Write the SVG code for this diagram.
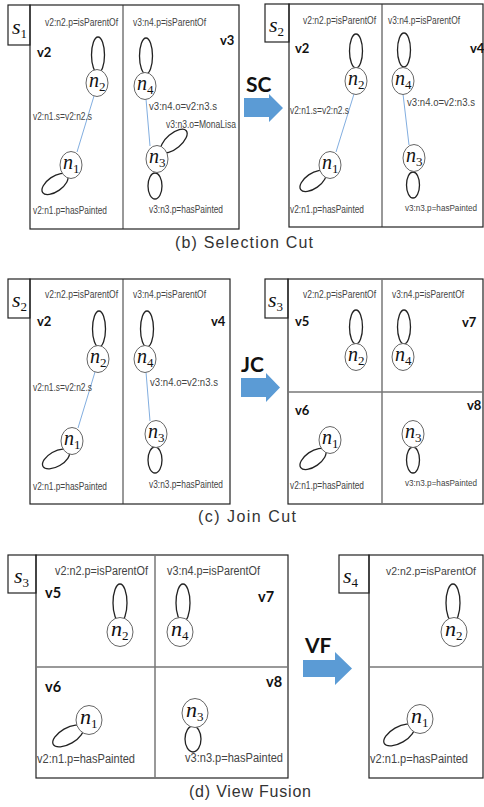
<svg xmlns="http://www.w3.org/2000/svg" width="484" height="807" viewBox="0 0 484 807">
<style>
.bg{fill:#fff}
.box{fill:none;stroke:#222;stroke-width:1.2}
.dv{stroke:#333;stroke-width:1}
.dg{stroke:#777;stroke-width:1.5}
.node{fill:#fff;stroke:#666;stroke-width:1}
.loop{fill:none;stroke:#222;stroke-width:1.3}
.edge{stroke:#82aee0;stroke-width:1}
.lbl{font-family:"Liberation Sans",Arial,sans-serif;font-size:10.5px;fill:#444}
.lb2{font-family:"Liberation Sans",Arial,sans-serif;font-size:12.5px;fill:#444}
.tight{font-size:8.5px}
.tight2{font-size:11px}
.v{font-family:Lato,"Liberation Sans",sans-serif;font-weight:bold;font-size:13px;fill:#111}
.v2{font-family:Lato,"Liberation Sans",sans-serif;font-weight:bold;font-size:14.5px;fill:#111}
.op{font-family:Lato,"Liberation Sans",sans-serif;font-weight:bold;font-size:21px;fill:#111}
.arrow{fill:#5b9bd5}
.cap{font-family:"Liberation Sans",Arial,sans-serif;font-size:16px;fill:#333}
.s{font-family:"Liberation Serif",serif;font-style:italic;font-size:22px;fill:#111}
.n{font-family:"Liberation Serif",serif;font-style:italic;font-size:20px;fill:#111}
.nd{font-family:"Liberation Serif",serif;font-style:italic;font-size:22px;fill:#111}
.sub{font-size:13px;font-style:normal}
</style>
<rect class="bg" x="0" y="0" width="484" height="807"/>

<g id="frames">
  <rect class="box" x="30" y="5" width="209" height="224"/>
  <line class="dv" x1="123" y1="5" x2="123" y2="229"/>
  <rect class="box" x="8" y="5" width="22" height="40"/>
  <rect class="box" x="289" y="4" width="194" height="223"/>
  <line class="dv" x1="382" y1="4" x2="382" y2="227"/>
  <rect class="box" x="265" y="4" width="24" height="38"/>
  <rect class="box" x="30" y="279" width="200" height="225"/>
  <line class="dv" x1="123" y1="279" x2="123" y2="504"/>
  <rect class="box" x="8" y="279" width="22" height="39"/>
  <rect class="box" x="288" y="279" width="195" height="225"/>
  <line class="dg" x1="382" y1="279" x2="382" y2="504"/>
  <line class="dg" x1="288" y1="392" x2="483" y2="392"/>
  <rect class="box" x="265" y="279" width="23" height="39"/>
  <rect class="box" x="36" y="555" width="252" height="223"/>
  <line class="dg" x1="155" y1="555" x2="155" y2="778"/>
  <line class="dg" x1="36" y1="667" x2="288" y2="667"/>
  <rect class="box" x="8" y="555" width="28" height="38"/>
  <rect class="box" x="369" y="555" width="114" height="223"/>
  <line class="dg" x1="369" y1="667" x2="483" y2="667"/>
  <rect class="box" x="339" y="555" width="30" height="38"/>
</g>

<g id="connectors">
  <ellipse class="loop" cx="98" cy="55" rx="6.5" ry="18"/>
  <line class="edge" x1="94" y1="96" x2="77" y2="152"/>
  <ellipse class="loop" cx="55" cy="184" rx="15" ry="7.5" transform="rotate(-35 55 184)"/>
  <ellipse class="loop" cx="146" cy="56" rx="6.5" ry="18"/>
  <line class="edge" x1="146" y1="99" x2="150" y2="146"/>
  <ellipse class="loop" cx="174" cy="141" rx="16" ry="7.5" transform="rotate(-40 174 141)"/>
  <ellipse class="loop" cx="155" cy="186" rx="7" ry="13"/>
  <ellipse class="loop" cx="356" cy="51" rx="6.5" ry="17"/>
  <line class="edge" x1="354" y1="94" x2="336" y2="152"/>
  <ellipse class="loop" cx="313" cy="181" rx="15" ry="7.5" transform="rotate(-35 313 181)"/>
  <ellipse class="loop" cx="404" cy="50" rx="6.5" ry="17"/>
  <line class="edge" x1="403" y1="94" x2="409" y2="145"/>
  <ellipse class="loop" cx="413" cy="185" rx="6.5" ry="13"/>
  <ellipse class="loop" cx="99" cy="329" rx="6.5" ry="18"/>
  <line class="edge" x1="95" y1="372" x2="78" y2="428"/>
  <ellipse class="loop" cx="56" cy="459" rx="15" ry="7.5" transform="rotate(-30 56 459)"/>
  <ellipse class="loop" cx="147" cy="329" rx="6.5" ry="18"/>
  <line class="edge" x1="146" y1="372" x2="150" y2="421"/>
  <ellipse class="loop" cx="155" cy="460" rx="7" ry="13"/>
  <ellipse class="loop" cx="356" cy="327" rx="6.5" ry="17"/>
  <ellipse class="loop" cx="404" cy="327" rx="6.5" ry="17"/>
  <ellipse class="loop" cx="313" cy="459" rx="15" ry="7.5" transform="rotate(-35 313 459)"/>
  <ellipse class="loop" cx="413" cy="460" rx="6.5" ry="13"/>
  <ellipse class="loop" cx="120" cy="603" rx="7" ry="19"/>
  <ellipse class="loop" cx="183" cy="603" rx="7" ry="19"/>
  <ellipse class="loop" cx="68" cy="736" rx="17" ry="8" transform="rotate(-30 68 736)"/>
  <ellipse class="loop" cx="193" cy="739" rx="8" ry="13"/>
  <ellipse class="loop" cx="453" cy="603" rx="7" ry="19"/>
  <ellipse class="loop" cx="399" cy="735" rx="17" ry="8" transform="rotate(-30 399 735)"/>
</g>

<!-- (b) Selection Cut -->
<g id="b-s1"><text class="s" x="12" y="34">s<tspan class="sub" dy="4">1</tspan></text></g>
<g id="b-v2"><text class="v" x="37" y="57">v2</text></g>
<g id="b-v3"><text class="v" x="220" y="45">v3</text></g>
<text class="lbl" x="45" y="26" textLength="73" lengthAdjust="spacingAndGlyphs">v2:n2.p=isParentOf</text>
<text class="lbl" x="33" y="120" textLength="59" lengthAdjust="spacingAndGlyphs">v2:n1.s=v2:n2.s</text>
<text class="lbl" x="33" y="214" textLength="74" lengthAdjust="spacingAndGlyphs">v2:n1.p=hasPainted</text>
<text class="lbl" x="133" y="26" textLength="73" lengthAdjust="spacingAndGlyphs">v3:n4.p=isParentOf</text>
<text class="lbl" x="149" y="110" textLength="68" lengthAdjust="spacingAndGlyphs">v3:n4.o=v2:n3.s</text>
<text class="lbl" x="166" y="128" textLength="70" lengthAdjust="spacingAndGlyphs">v3:n3.o=MonaLisa</text>
<text class="lbl" x="149" y="213" textLength="74" lengthAdjust="spacingAndGlyphs">v3:n3.p=hasPainted</text>
<g id="b-n2"><ellipse class="node" cx="97" cy="83" rx="11" ry="13.5"/><text class="n" x="89" y="87">n<tspan class="sub" dy="4">2</tspan></text></g>
<g id="b-n1"><ellipse class="node" cx="71" cy="165" rx="11" ry="13.5"/><text class="n" x="63" y="169">n<tspan class="sub" dy="4">1</tspan></text></g>
<g id="b-n4"><ellipse class="node" cx="145" cy="86" rx="11" ry="13.5"/><text class="n" x="137" y="90">n<tspan class="sub" dy="4">4</tspan></text></g>
<g id="b-n3"><ellipse class="node" cx="157" cy="159" rx="11" ry="13.5"/><text class="n" x="149" y="163">n<tspan class="sub" dy="4">3</tspan></text></g>

<g id="b-s2"><text class="s" x="269" y="32">s<tspan class="sub" dy="4">2</tspan></text></g>
<g id="b-v2r"><text class="v" x="295" y="53">v2</text></g>
<g id="b-v4"><text class="v" x="470" y="53">v4</text></g>
<text class="lbl" x="303" y="24" textLength="73" lengthAdjust="spacingAndGlyphs">v2:n2.p=isParentOf</text>
<text class="lbl" x="290" y="114" textLength="59" lengthAdjust="spacingAndGlyphs">v2:n1.s=v2:n2.s</text>
<text class="lbl" x="290" y="213" textLength="74" lengthAdjust="spacingAndGlyphs">v2:n1.p=hasPainted</text>
<text class="lbl" x="388" y="24" textLength="72" lengthAdjust="spacingAndGlyphs">v3:n4.p=isParentOf</text>
<text class="lbl" x="407" y="106" textLength="68" lengthAdjust="spacingAndGlyphs">v3:n4.o=v2:n3.s</text>
<text class="lbl tight" x="405" y="211" textLength="72" lengthAdjust="spacingAndGlyphs">v3:n3.p=hasPainted</text>
<g id="b-n2r"><ellipse class="node" cx="356" cy="81" rx="11" ry="13.5"/><text class="n" x="348" y="85">n<tspan class="sub" dy="4">2</tspan></text></g>
<g id="b-n1r"><ellipse class="node" cx="330" cy="165" rx="11" ry="13.5"/><text class="n" x="322" y="169">n<tspan class="sub" dy="4">1</tspan></text></g>
<g id="b-n4r"><ellipse class="node" cx="403" cy="81" rx="11" ry="13.5"/><text class="n" x="395" y="85">n<tspan class="sub" dy="4">4</tspan></text></g>
<g id="b-n3r"><ellipse class="node" cx="414" cy="158" rx="11" ry="13.5"/><text class="n" x="406" y="162">n<tspan class="sub" dy="4">3</tspan></text></g>

<g id="op-sc">
  <text class="op" x="246" y="92">SC</text>
  <polygon class="arrow" points="244,98 269,98 269,94 283,108 269,122 269,117 244,117"/>
</g>
<text class="cap" x="244" y="248" text-anchor="middle" textLength="138" lengthAdjust="spacing">(b) Selection Cut</text>

<!-- (c) Join Cut -->
<g id="c-s2"><text class="s" x="12" y="307">s<tspan class="sub" dy="4">2</tspan></text></g>
<g id="c-v2"><text class="v" x="37" y="326">v2</text></g>
<g id="c-v4"><text class="v" x="211" y="326">v4</text></g>
<text class="lbl" x="45" y="298" textLength="73" lengthAdjust="spacingAndGlyphs">v2:n2.p=isParentOf</text>
<text class="lbl" x="33" y="391" textLength="59" lengthAdjust="spacingAndGlyphs">v2:n1.s=v2:n2.s</text>
<text class="lbl" x="33" y="490" textLength="74" lengthAdjust="spacingAndGlyphs">v2:n1.p=hasPainted</text>
<text class="lbl" x="133" y="298" textLength="73" lengthAdjust="spacingAndGlyphs">v3:n4.p=isParentOf</text>
<text class="lbl" x="150" y="386" textLength="68" lengthAdjust="spacingAndGlyphs">v3:n4.o=v2:n3.s</text>
<text class="lbl" x="149" y="488" textLength="74" lengthAdjust="spacingAndGlyphs">v3:n3.p=hasPainted</text>
<g id="c-n2"><ellipse class="node" cx="98" cy="359" rx="11" ry="13.5"/><text class="n" x="90" y="363">n<tspan class="sub" dy="4">2</tspan></text></g>
<g id="c-n1"><ellipse class="node" cx="72" cy="441" rx="11" ry="13.5"/><text class="n" x="64" y="445">n<tspan class="sub" dy="4">1</tspan></text></g>
<g id="c-n4"><ellipse class="node" cx="145" cy="359" rx="11" ry="13.5"/><text class="n" x="137" y="363">n<tspan class="sub" dy="4">4</tspan></text></g>
<g id="c-n3"><ellipse class="node" cx="156" cy="434" rx="11" ry="13.5"/><text class="n" x="148" y="438">n<tspan class="sub" dy="4">3</tspan></text></g>

<g id="c-s3"><text class="s" x="268" y="307">s<tspan class="sub" dy="4">3</tspan></text></g>
<g id="c-v5"><text class="v" x="295" y="326">v5</text></g>
<g id="c-v7"><text class="v" x="462" y="327">v7</text></g>
<g id="c-v6"><text class="v" x="295" y="415">v6</text></g>
<g id="c-v8"><text class="v" x="467" y="410">v8</text></g>
<text class="lbl" x="303" y="298" textLength="73" lengthAdjust="spacingAndGlyphs">v2:n2.p=isParentOf</text>
<text class="lbl" x="392" y="298" textLength="72" lengthAdjust="spacingAndGlyphs">v3:n4.p=isParentOf</text>
<text class="lbl" x="290" y="489" textLength="74" lengthAdjust="spacingAndGlyphs">v2:n1.p=hasPainted</text>
<text class="lbl tight" x="405" y="486" textLength="72" lengthAdjust="spacingAndGlyphs">v3:n3.p=hasPainted</text>
<g id="c-n2r"><ellipse class="node" cx="356" cy="357" rx="11" ry="13.5"/><text class="n" x="348" y="361">n<tspan class="sub" dy="4">2</tspan></text></g>
<g id="c-n4r"><ellipse class="node" cx="403" cy="357" rx="11" ry="13.5"/><text class="n" x="395" y="361">n<tspan class="sub" dy="4">4</tspan></text></g>
<g id="c-n1r"><ellipse class="node" cx="330" cy="440" rx="11" ry="13.5"/><text class="n" x="322" y="444">n<tspan class="sub" dy="4">1</tspan></text></g>
<g id="c-n3r"><ellipse class="node" cx="413" cy="434" rx="11" ry="13.5"/><text class="n" x="405" y="438">n<tspan class="sub" dy="4">3</tspan></text></g>

<g id="op-jc">
  <text class="op" x="241" y="372">JC</text>
  <polygon class="arrow" points="241,378 266,378 266,373 280,387.5 266,402 266,397 241,397"/>
</g>
<text class="cap" x="247" y="522" text-anchor="middle" textLength="98" lengthAdjust="spacing">(c) Join Cut</text>

<!-- (d) View Fusion -->
<g id="d-s3"><text class="s" x="14" y="583">s<tspan class="sub" dy="4">3</tspan></text></g>
<g id="d-v5"><text class="v2" x="45" y="598">v5</text></g>
<g id="d-v7"><text class="v2" x="258" y="602">v7</text></g>
<g id="d-v6"><text class="v2" x="45" y="692">v6</text></g>
<g id="d-v8"><text class="v2" x="266" y="687">v8</text></g>
<text class="lb2" x="55" y="575" textLength="93" lengthAdjust="spacingAndGlyphs">v2:n2.p=isParentOf</text>
<text class="lb2" x="167" y="575" textLength="93" lengthAdjust="spacingAndGlyphs">v3:n4.p=isParentOf</text>
<text class="lb2" x="37" y="763" textLength="98" lengthAdjust="spacingAndGlyphs">v2:n1.p=hasPainted</text>
<text class="lb2" x="185" y="762" textLength="98" lengthAdjust="spacingAndGlyphs">v3:n3.p=hasPainted</text>
<g id="d-n2"><ellipse class="node" cx="120" cy="632" rx="13" ry="14.5"/><text class="nd" x="111" y="636">n<tspan class="sub" dy="4">2</tspan></text></g>
<g id="d-n4"><ellipse class="node" cx="180" cy="632" rx="13" ry="14.5"/><text class="nd" x="171" y="636">n<tspan class="sub" dy="4">4</tspan></text></g>
<g id="d-n1"><ellipse class="node" cx="89" cy="720" rx="13" ry="14.5"/><text class="nd" x="80" y="724">n<tspan class="sub" dy="4">1</tspan></text></g>
<g id="d-n3"><ellipse class="node" cx="195" cy="713" rx="13" ry="14.5"/><text class="nd" x="186" y="717">n<tspan class="sub" dy="4">3</tspan></text></g>

<g id="op-vf">
  <text class="op" x="305" y="653">VF</text>
  <polygon class="arrow" points="303,660 335,660 335,652 352,668.5 335,685 335,677 303,677"/>
</g>

<g id="d-s4"><text class="s" x="343" y="583">s<tspan class="sub" dy="4">4</tspan></text></g>
<text class="lb2 tight2" x="386" y="575" textLength="90" lengthAdjust="spacingAndGlyphs">v2:n2.p=isParentOf</text>
<text class="lb2" x="370" y="763" textLength="98" lengthAdjust="spacingAndGlyphs">v2:n1.p=hasPainted</text>
<g id="d-n2r"><ellipse class="node" cx="454" cy="632" rx="13" ry="14.5"/><text class="nd" x="445" y="636">n<tspan class="sub" dy="4">2</tspan></text></g>
<g id="d-n1r"><ellipse class="node" cx="420" cy="719" rx="13" ry="14.5"/><text class="nd" x="411" y="723">n<tspan class="sub" dy="4">1</tspan></text></g>

<text class="cap" x="250" y="797" text-anchor="middle" textLength="122" lengthAdjust="spacing">(d) View Fusion</text>
</svg>
